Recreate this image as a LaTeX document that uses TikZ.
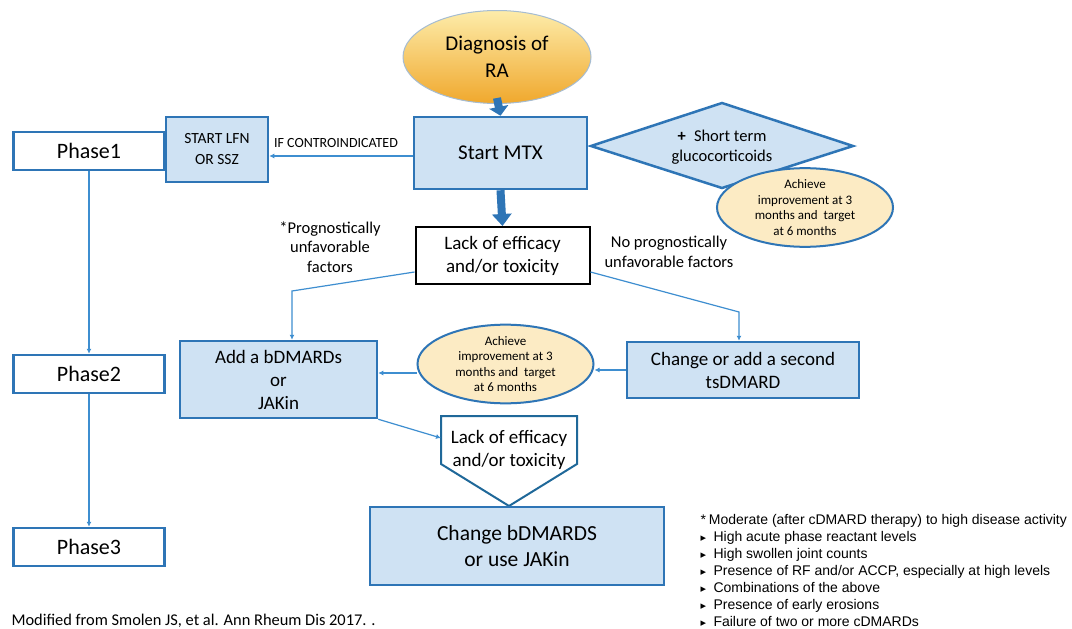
\documentclass[tikz,border=0pt]{standalone}
\usepackage{fontspec}
\setmainfont{Carlito}
\newfontfamily\arialfont{Liberation Sans}
\newfontfamily\symfont{DejaVu Sans}
\usetikzlibrary{shapes.geometric,arrows.meta,calc}
\definecolor{boxfill}{RGB}{207,226,243}
\definecolor{boxline}{RGB}{46,117,182}
\definecolor{thinblue}{RGB}{62,142,208}
\definecolor{ellfill}{RGB}{252,235,196}
\definecolor{pentline}{RGB}{31,104,153}
\definecolor{diagline}{RGB}{165,188,210}
\definecolor{orangetop}{RGB}{253,236,170}
\definecolor{orangebot}{RGB}{240,168,45}
\newcommand\fs[2]{\fontsize{#1}{#2}\selectfont}
\begin{document}
\begin{tikzpicture}[x=1pt,y=-1pt,
 bluebox/.style={draw=boxline, fill=boxfill, line width=2.5pt, align=center, inner sep=0pt},
 phasebox/.style={draw=boxline, fill=white, line width=2.5pt, minimum width=151pt, minimum height=38pt, inner sep=0pt, font=\fs{22}{26}},
 thinarrow/.style={draw=thinblue, line width=1.2pt, -{Latex[length=5pt,width=5pt]}},
 yellowell/.style={ellipse, draw=boxline, fill=ellfill, line width=2pt, minimum width=176pt, minimum height=69pt, inner sep=0pt, align=center, font=\fs{13}{15.5}},
 bigarrow/.style={draw=boxline, line width=8pt},
 foot/.style={anchor=base west, font=\arialfont\fs{14}{16}}
]
\useasboundingbox (0,0) rectangle (1072,629);
\fill[white] (0,0) rectangle (1072,629);

% top
\node[ellipse, draw=diagline, line width=1pt, top color=orangetop, bottom color=orangebot, minimum width=188pt, minimum height=93pt, inner sep=0pt, align=center, font=\fs{21}{27}] (diag) at (497,57) {Diagnosis of\\RA};
\node[bluebox, minimum width=173pt, minimum height=72pt, font=\fs{21}{25}] (mtx) at (500.5,153) {Start MTX};
\draw[bigarrow, -{Triangle[width=19pt,length=9pt]}] ([yshift=6pt]diag.south) -- (mtx.north);

\draw[draw=boxline, fill=boxfill, line width=2.5pt] (591,146) -- (722,103) -- (853,146) -- (722,188) -- cycle;
\node[align=center, font=\fs{16.5}{20}] (gc) at (722,147) {\textbf{+}\enspace Short term\\glucocorticoids};
\node[yellowell] (ach1) at (805,207.5) {Achieve\\improvement at 3\\months and\ \ target\\at 6 months};

\node[draw=black, line width=2pt, fill=white, minimum width=174pt, minimum height=57pt, align=center, font=\fs{19}{23}, inner sep=0pt] (lack1) at (502.5,255.5) {Lack of efficacy\\and/or toxicity};
\draw[bigarrow, -{Triangle[width=19pt,length=12pt]}] (mtx.south) -- (lack1.north);

\node[bluebox, minimum width=102pt, minimum height=65pt, font=\fs{15.5}{21}] (lfn) at (217,149.5) {START LFN\\OR SSZ};
\draw[thinarrow] (mtx.west |- 0,156) -- (lfn.east |- 0,156);
\node[font=\fs{14}{16}] (ifc) at (336,143) {IF CONTROINDICATED};

% phases
\node[phasebox] (ph1) at (89,151) {Phase1};
\node[phasebox] (ph2) at (89,374) {Phase2};
\node[phasebox] (ph3) at (89,547) {Phase3};
\draw[thinarrow] (ph1) -- (ph2);
\draw[thinarrow] (ph2) -- (ph3);

% side labels
\node[align=center, font=\fs{16.5}{19.5}] (prog) at (330,247) {*Prognostically\\unfavorable\\factors};
\node[align=center, font=\fs{16.5}{20}] (noprog) at (669,252) {No prognostically\\unfavorable factors};

% second row
\node[bluebox, minimum width=197pt, minimum height=77pt, font=\fs{19}{23}] (add) at (278.5,379.5) {Add a bDMARDs\\or\\JAKin};
\node[yellowell] (ach2) at (505.5,364) {Achieve\\improvement at 3\\months and\ \ target\\at 6 months};
\node[bluebox, minimum width=232pt, minimum height=56pt, font=\fs{19}{23}] (chg) at (743,370) {Change or add a second\\tsDMARD};

\coordinate (tl) at (292,291);
\coordinate (tr) at (739,312);
\draw[thinarrow] (lack1.west |- 0,272) -- (tl) -- (tl |- add.north);
\draw[thinarrow] (lack1.east |- 0,272) -- (tr) -- (tr |- chg.north);
\draw[thinarrow] (chg.west |- 0,370) -- (ach2.east |- 0,370);
\draw[thinarrow] (ach2.west |- 0,373) -- (add.east |- 0,373);

% pentagon
\draw[draw=pentline, fill=white, line width=2pt] (441,416) -- (577,416) -- (577,464) -- (509,506) -- (441,464) -- cycle;
\node[align=center, font=\fs{19}{23}] (lack2) at (509,450) {Lack of efficacy\\and/or toxicity};
\coordinate (pl) at (441,438);
\draw[thinarrow] (add.south east) -- (pl);

\node[bluebox, minimum width=294pt, minimum height=78pt, font=\fs{21.5}{26}] (cbd) at (517,546) {Change bDMARDS\\or use JAKin};

% footnotes
\node[foot] (f0) at (697,524) {*\hspace{3pt}Moderate (after cDMARD therapy) to high disease activity};
\foreach \t [count=\i] in {High acute phase reactant levels, High swollen joint counts, {Presence of RF and/or ACCP, especially at high levels}, Combinations of the above, Presence of early erosions, Failure of two or more cDMARDs}
  \node[foot] (f\i) at (697,{524+17*\i}) {\makebox[13pt][l]{\symfont\fs{11}{11}▸}\t};

\node[anchor=base west, font=\fs{16.4}{19}] (src) at (8,625) {Modified from Smolen JS, et al. Ann Rheum Dis 2017. .};
\end{tikzpicture}
\end{document}
